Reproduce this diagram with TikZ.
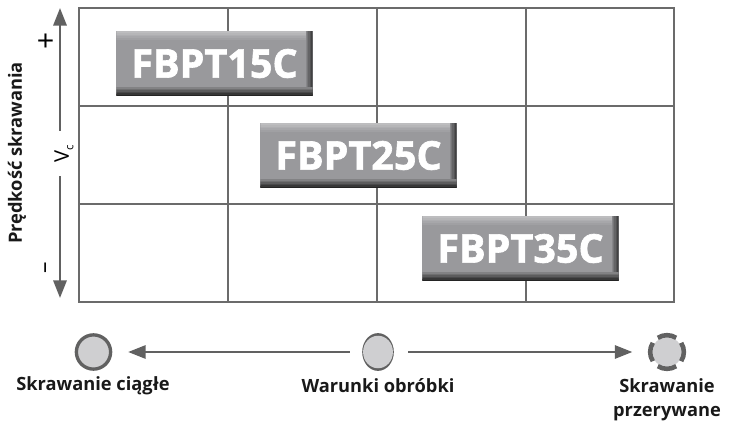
\documentclass[tikz,border=0pt]{standalone}
\usepackage{fontspec}
\setmainfont{Open Sans}
\newfontfamily\boxfont{Open Sans}[BoldFeatures={FakeBold=1.6}]
\usetikzlibrary{arrows.meta, calc, shapes.geometric}
\definecolor{gridgray}{gray}{0.42}
\definecolor{axisgray}{gray}{0.38}
\definecolor{boxgray}{rgb}{0.6,0.6,0.61}
\definecolor{boxlight}{rgb}{0.74,0.74,0.75}
\definecolor{boxdark}{rgb}{0.14,0.14,0.14}
\definecolor{discgray}{rgb}{0.81,0.81,0.82}
\tikzset{
    gridline/.style={draw=gridgray, line width=1pt},
    axisarrow/.style={draw=axisgray, line width=1.5pt, -{Triangle[length=10pt, width=7.5pt]}},
    flowarrow/.style={draw=axisgray, line width=1.4pt, -{Triangle[length=10pt, width=7.5pt]}},
    disc/.style={circle, fill=discgray, draw=axisgray, line width=1.9pt, minimum size=19.5pt, inner sep=0pt},
    caption/.style={font=\fontsize{10.4}{13}\selectfont\bfseries, text=black!90, inner sep=0pt},
    gradebox/.style={minimum width=111.7pt, minimum height=36.9pt, inner sep=0pt, fill=boxgray, text=white,
        font=\boxfont\fontsize{22.5}{26}\selectfont\bfseries,
        path picture={
            \foreach[evaluate=\i as \p using int(100-\i*20)] \i in {0,...,4}
                \fill[boxlight!\p!boxgray] ($(path picture bounding box.north west)+(0,-\i*1pt)$) rectangle ($(path picture bounding box.north east)+(0,-\i*1pt-1.05pt)$);
            \foreach[evaluate=\i as \p using int(75-\i*15)] \i in {0,...,4}
                \fill[boxdark!\p!boxgray] ($(path picture bounding box.south east)+(-\i*0.8pt,0)$) rectangle ($(path picture bounding box.north east)+(-\i*0.8pt-0.85pt,0)$);
            \foreach[evaluate=\i as \p using int(100-\i*16)] \i in {0,...,5}
                \fill[boxdark!\p!boxgray] ($(path picture bounding box.south west)+(0,\i*0.8pt)$) rectangle ($(path picture bounding box.south east)+(0,\i*0.8pt+0.85pt)$);
        }},
}
\begin{document}
\begin{tikzpicture}[x=0.02cm, y=-0.02cm]
    \useasboundingbox (0,0) rectangle (729,425);

    % grid
    \draw[gridline] (79,8) rectangle (674,302);
    \foreach \x in {228,377,526}
        \draw[gridline] (\x,8) -- (\x,302);
    \foreach \y in {106,204}
        \draw[gridline] (79,\y) -- (674,\y);

    \node[gradebox] (box15) at (214.5,63.5) {FBPT15C};
    \node[gradebox] (box25) at (358.5,155.5) {FBPT25C};
    \node[gradebox] (box35) at (520.5,248.5) {FBPT35C};

    % speed axis
    \coordinate (axistop) at (60,8);
    \coordinate (axisbot) at (60,298);
    \node[rotate=90, inner sep=0pt, font=\fontsize{11.5}{14}\selectfont] (vc) at (64,153.5) {V\raisebox{-2.5pt}{\fontsize{6.5}{8}\selectfont c}};
    \draw[axisarrow, shorten <=13pt] (vc.center -| axistop) -- (axistop);
    \draw[axisarrow, shorten <=13pt] (vc.center -| axistop) -- (axisbot);
    \node[rotate=90, inner sep=0pt, font=\fontsize{17}{18}\selectfont] (plus) at (48,41) {+};
    \node[rotate=90, inner sep=0pt, font=\fontsize{13}{14}\selectfont] (minus) at (48,268) {--};
    \node[caption, rotate=90] (speed) at (17,153) {Prędkość skrawania};

    % cutting conditions
    \node[disc] (cont) at (93.5,352) {};
    \node[ellipse, fill=axisgray, minimum width=18pt, minimum height=21.5pt, inner sep=0pt] (mid) at (378,352) {};
    \node[ellipse, fill=discgray, minimum width=17pt, minimum height=18.5pt, inner sep=0pt] (midin) at (mid.center) {};
    \node[circle, fill=discgray, minimum size=17pt, inner sep=0pt] (inter) at (667,352) {};
    \foreach \ang in {0,90,180,270}
        \draw[draw=axisgray, line width=2.6pt] (inter.center) ++(\ang-33:9.6pt) arc[start angle=\ang-33, end angle=\ang+33, radius=9.6pt];
    \draw[flowarrow, shorten <=7pt, shorten >=9pt] (mid) -- (cont);
    \draw[flowarrow, shorten <=8pt, shorten >=11pt] (mid) -- (inter);

    \node[caption] (contlab) at (93,386) {Skrawanie ciągłe};
    \node[caption] (midlab) at (378,386) {Warunki obróbki};
    \node[caption] (interlab1) at (667,386) {Skrawanie};
    \node[caption] (interlab2) at (667,414) {przerywane};
\end{tikzpicture}
\end{document}
